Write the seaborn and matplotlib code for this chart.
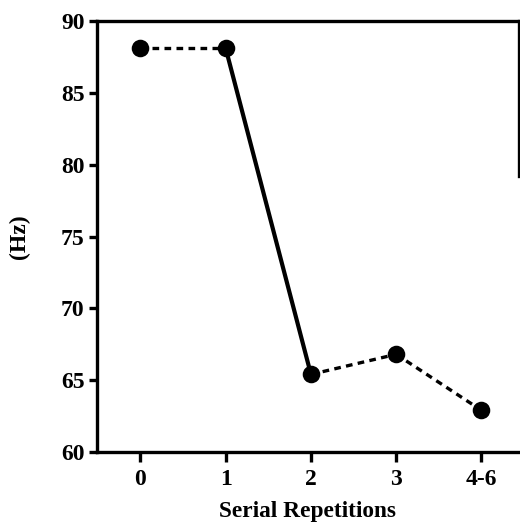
import matplotlib
matplotlib.use("Agg")
import matplotlib.pyplot as plt
import seaborn as sns
import pandas as pd

categories = ["0", "1", "2", "3", "4-6"]
hz_values = [88.1, 88.1, 65.4, 66.8, 62.9]
segment_styles = ["dashed", "solid", "dashed", "dashed"]  # style of segment i -> i+1
y_ticks = [60, 65, 70, 75, 80, 85, 90]

sns.set_theme(style="ticks")
plt.rcParams["font.family"] = ["Liberation Serif", "DejaVu Serif"]
plt.rcParams["text.color"] = "black"
plt.rcParams["axes.labelcolor"] = "black"

df = pd.DataFrame({"pos": list(range(len(categories))), "hz": hz_values, "cat": categories})

fig = plt.figure(figsize=(5.2, 5.28), dpi=100)
ax = fig.add_axes([0.1865, 0.144, 0.8115, 0.816])

for i, style in enumerate(segment_styles):
    seg = df.iloc[i:i + 2]
    if style == "solid":
        sns.lineplot(data=seg, x="pos", y="hz", ax=ax, color="black", lw=3.0,
                     linestyle="-", sort=False)
    else:
        sns.lineplot(data=seg, x="pos", y="hz", ax=ax, color="black", lw=2.4,
                     linestyle=(0, (2.0, 1.6)), sort=False)

sns.scatterplot(data=df, x="pos", y="hz", ax=ax, color="black", s=160,
                edgecolor="black", linewidth=0, zorder=5)

ax.set_xlim(-0.51, 4.44)
ax.set_ylim(60, 90)
ax.set_xticks(df["pos"])
ax.set_xticklabels(categories)
ax.set_yticks(y_ticks)

ax.set_xlabel("Serial Repetitions", fontsize=16.8, fontweight="bold", labelpad=8, color="black")
ax.set_ylabel("(Hz)", fontsize=17, fontweight="bold", labelpad=22, color="black")

for lab in ax.get_xticklabels() + ax.get_yticklabels():
    lab.set_fontsize(17)
    lab.set_fontweight("bold")
    lab.set_color("black")

for side in ["left", "bottom", "top", "right"]:
    ax.spines[side].set_linewidth(2.4)
    ax.spines[side].set_color("black")
ax.spines["right"].set_bounds(79.2, 90)

ax.tick_params(axis="x", direction="out", length=7.5, width=2.4, pad=5, colors="black")
ax.tick_params(axis="y", direction="out", length=6, width=2.4, pad=3, colors="black")
ax.grid(False)

fig.savefig("out.png", dpi=100)
